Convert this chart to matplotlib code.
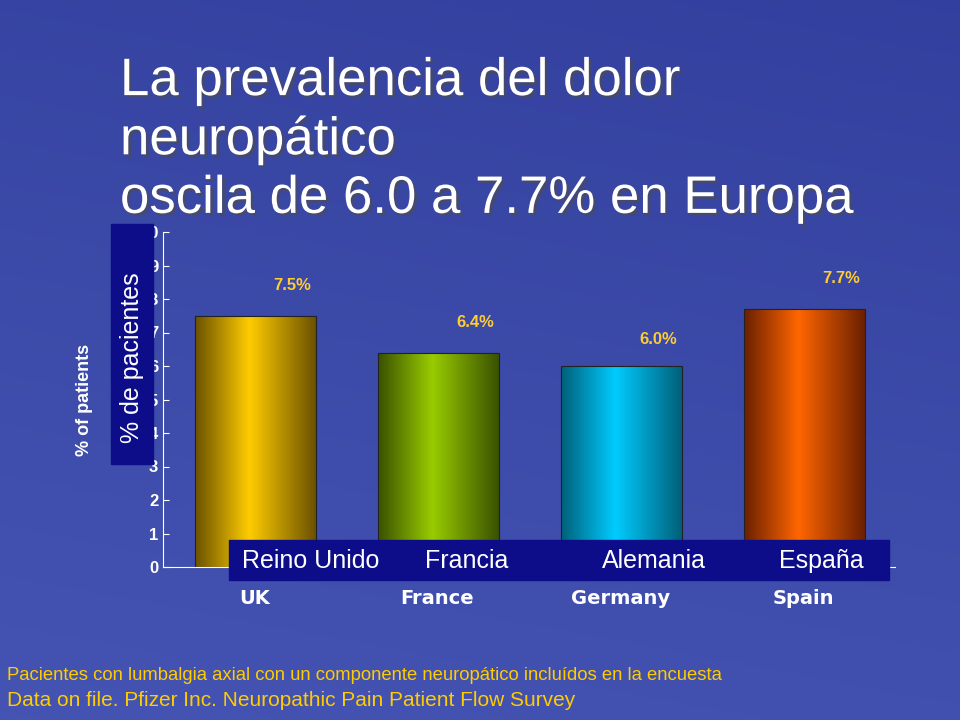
import numpy as np
import matplotlib.pyplot as plt
import matplotlib.patheffects as pe
from matplotlib.patches import Rectangle

plt.rcParams["font.family"] = "Liberation Sans"

countries = ["UK", "France", "Germany", "Spain"]
spanish = ["Reino Unido", "Francia", "Alemania", "España"]
values = [7.5, 6.4, 6.0, 7.7]
labels = ["7.5%", "6.4%", "6.0%", "7.7%"]
label_y = [8.4, 7.3, 6.8, 8.6]
# left, mid, right colours of each bar gradient
bar_cols = [("#6b5200", "#ffcc00", "#6b5200"),
            ("#3a5200", "#99cc00", "#3a5200"),
            ("#00607a", "#00ccff", "#00607a"),
            ("#6b2000", "#ff6600", "#6b2000")]

W, H = 960, 720
fig = plt.figure(figsize=(9.6, 7.2), dpi=100)

# background
bg = fig.add_axes([0, 0, 1, 1])
yy = np.linspace(0, 1, 200)[:, None]
xx = np.linspace(0, 1, 200)[None, :]
top = np.array([0.27, 0.33, 0.70])
bot = np.array([0.20, 0.25, 0.62])
t = (yy * 0.8 + xx * 0.2)
img = top * (1 - t[..., None]) + bot * t[..., None]
bg.imshow(img, extent=[0, 1, 0, 1], aspect="auto")
bg.set_xlim(0, 1); bg.set_ylim(1, 0)
bg.axis("off")

def px(x, y):
    return x / W, 1 - y / H

# chart axes: x 163..895, y 232..567
ax = fig.add_axes([163 / W, 1 - 567 / H, (895 - 163) / W, (567 - 232) / H])
ax.set_facecolor("none")
width = 121 / 183
for i, v in enumerate(values):
    l, m, r = [np.array(plt.matplotlib.colors.to_rgb(c)) for c in bar_cols[i]]
    s = np.linspace(0, 1, 100)
    grad = np.where(s[:, None] < 0.45,
                    l + (m - l) * (s[:, None] / 0.45),
                    m + (r - m) * ((s[:, None] - 0.45) / 0.55))
    x0 = i + (195 - 163) / 183
    im = ax.imshow(grad[None, :, :], extent=[x0, x0 + width, 0, v],
                   aspect="auto", zorder=2)
    rect = Rectangle((x0, 0), width, v, fill=False, ec="#222222", lw=0.8, zorder=3)
    ax.add_patch(rect)
    im.set_clip_path(rect)
    ax.text(x0 + width / 2 + 0.2, label_y[i], labels[i],
            color="#ffcc33", fontsize=12, fontweight="bold", ha="center", va="center")
ax.set_xlim(0, 4)
ax.set_ylim(0, 10)
ax.set_yticks(range(11))
ax.set_yticklabels([str(k) for k in range(11)], color="white", fontsize=12,
                   fontweight="bold")
ax.set_xticks([0.5, 1.5, 2.5, 3.5])
ax.set_xticklabels(countries, color="white", fontsize=14, fontweight="bold",
                   family="DejaVu Sans")
ax.tick_params(axis="x", length=0, pad=16)
ax.tick_params(axis="y", colors="white", direction="in", length=4)
for sp in ["top", "right"]:
    ax.spines[sp].set_visible(False)
for sp in ["left", "bottom"]:
    ax.spines[sp].set_color("white")
ax.set_ylabel("% of patients", color="white", fontsize=13, fontweight="bold",
              labelpad=34)

# overlay boxes
box1 = Rectangle(px(111, 464), 42 / W, 240 / H, transform=fig.transFigure,
                 color="#0d0d8a", zorder=5)
fig.patches.append(box1)
fig.text(*px(132, 358), "% de pacientes", rotation=90, color="white",
         fontsize=18, ha="center", va="center", zorder=6)
box2 = Rectangle(px(229, 580), 660 / W, 40 / H, transform=fig.transFigure,
                 color="#0d0d8a", zorder=5)
fig.patches.append(box2)
for xs, s in zip([311, 467, 654, 821], spanish):
    fig.text(*px(xs, 561), s, color="white", fontsize=18, ha="center",
             va="center", zorder=6)

fig.text(*px(120, 140), "La prevalencia del dolor\nneuropático\noscila de 6.0 a 7.7% en Europa",
         color="white", fontsize=38, ha="left", va="center", linespacing=1.22,
         path_effects=[pe.withSimplePatchShadow(offset=(2, -2), alpha=0.6)])
fig.text(*px(7, 676), "Pacientes con lumbalgia axial con un componente neuropático incluídos en la encuesta",
         color="#ffcc00", fontsize=13.3, va="center")
fig.text(*px(7, 700), "Data on file. Pfizer Inc. Neuropathic Pain Patient Flow Survey",
         color="#ffcc00", fontsize=15, va="center")

fig.savefig("out.png", dpi=100)
